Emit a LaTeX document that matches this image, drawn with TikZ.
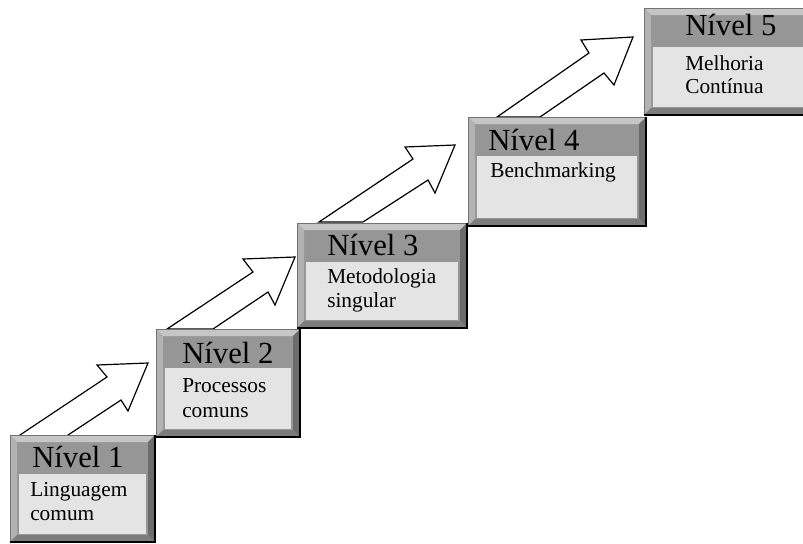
\documentclass[tikz,border=0pt]{standalone}
\usepackage{fontspec}
\setmainfont{Liberation Serif}
\usetikzlibrary{calc}
\definecolor{face}{HTML}{969696}
\definecolor{innerc}{HTML}{E4E4E4}
\definecolor{bevtop}{HTML}{C6C6C6}
\definecolor{bevleft}{HTML}{B2B2B2}
\definecolor{bevright}{HTML}{6C6C6C}
\definecolor{bevbot}{HTML}{7C7C7C}
\tikzset{
  boxface/.style={rectangle, fill=face, inner sep=0pt, outer sep=0pt, anchor=north west},
  blockarrow/.style={fill=white, draw=black, line width=0.9pt, line join=miter},
  titletext/.style={anchor=base west, inner sep=0pt, font=\fontsize{23}{27}\selectfont},
  bodytext/.style={anchor=base west, inner sep=0pt, font=\fontsize{16}{18}\selectfont},
}
% #1 name, #2 x1, #3 y1, #4 x2, #5 y2
\newcommand\lvlbox[5]{%
  \node[boxface, minimum width={(#4-#2)*0.75pt}, minimum height={(#5-#3)*0.75pt}] (#1) at (#2,#3) {};
  \fill[bevtop] (#1.north west) -- (#1.north east) -- ($(#1.north east)+(-7,7)$) -- ($(#1.north west)+(7,7)$) -- cycle;
  \fill[bevleft] (#1.north west) -- ($(#1.north west)+(7,7)$) -- ($(#1.south west)+(7,-7)$) -- (#1.south west) -- cycle;
  \fill[bevright] (#1.north east) -- (#1.south east) -- ($(#1.south east)+(-7,-7)$) -- ($(#1.north east)+(-7,7)$) -- cycle;
  \fill[bevbot] (#1.south west) -- (#1.south east) -- ($(#1.south east)+(-7,-7)$) -- ($(#1.south west)+(7,-7)$) -- cycle;
  \fill[innerc] ($(#1.north west)+(9,39)$) rectangle ($(#1.south east)+(-9,-8)$);
  \draw[black!55, line width=0.5pt] (#1.south west) -- (#1.north west) -- (#1.north east);
  \draw[black, line width=0.9pt] (#1.north east) -- (#1.south east) -- (#1.south west);
}
\begin{document}
\begin{tikzpicture}[x=0.75pt, y=-0.75pt]
\useasboundingbox (0,0) rectangle (803,543);
\clip (0,0) rectangle (803,543);
% block arrows
\draw[blockarrow] (17,437) -- (107,377) -- (97,365) -- (148,363) -- (128,411) -- (121,400) -- (65,437) -- cycle;
\draw[blockarrow] (167,329) -- (253,272) -- (243,259) -- (295,257) -- (275,305) -- (268,292) -- (213,329) -- cycle;
\draw[blockarrow] (319,222) -- (413,159) -- (405,147) -- (455,145) -- (435,193) -- (428,180) -- (363,222) -- cycle;
\draw[blockarrow] (497,117) -- (589,53) -- (581,40) -- (633,37) -- (614,85) -- (604,73) -- (540,117) -- cycle;
% boxes
\lvlbox{b1}{10}{435}{155}{542}
\lvlbox{b2}{156}{329}{300}{437}
\lvlbox{b3}{297}{223}{467}{328}
\lvlbox{b4}{468}{117}{646}{226}
\lvlbox{b5}{644}{8}{815}{115}
% texts
\node[titletext] (t1) at (32,467) {Nível 1};
\node[bodytext] (s1a) at (30,496) {Linguagem};
\node[bodytext] (s1b) at (30,520) {comum};
\node[titletext] (t2) at (182,363) {Nível 2};
\node[bodytext] (s2a) at (182,392) {Processos};
\node[bodytext] (s2b) at (182,417) {comuns};
\node[titletext] (t3) at (327,255) {Nível 3};
\node[bodytext] (s3a) at (327,283) {Metodologia};
\node[bodytext] (s3b) at (327,307) {singular};
\node[titletext] (t4) at (488,150) {Nível 4};
\node[bodytext] (s4a) at (490,177) {Benchmarking};
\node[titletext] (t5) at (685,35) {Nível 5};
\node[bodytext] (s5a) at (685,70) {Melhoria};
\node[bodytext] (s5b) at (685,93) {Contínua};
\end{tikzpicture}
\end{document}
